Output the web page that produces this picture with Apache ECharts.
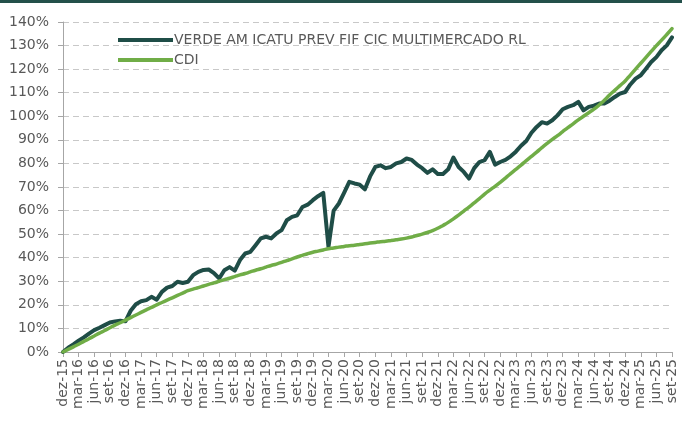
<!DOCTYPE html>
<html>
<head>
<meta charset="utf-8">
<script src="https://cdn.jsdelivr.net/npm/echarts@6/dist/echarts.min.js"></script>
<style>
  html, body { margin: 0; padding: 0; background: #fff; }
  #chart { width: 682px; height: 431px; }
</style>
</head>
<body>
<div id="chart"></div>
<script>
// month labels, dez-15 .. set-25
const monthNames = ['jan', 'fev', 'mar', 'abr', 'mai', 'jun', 'jul', 'ago', 'set', 'out', 'nov', 'dez'];
const firstYear = 2015, firstMonth = 11, lastYear = 2025, lastMonth = 8;

const fundName = 'VERDE AM ICATU PREV FIF CIC MULTIMERCADO RL';
const cdiName = 'CDI';

// accumulated return, % (monthly readings)
const fundValues = [
  0, 1.8, 3.2, 4.8, 6.2, 7.8, 9.3, 10.3, 11.4, 12.5, 13.0, 13.3,
  13.0, 17.5, 20.3, 21.5, 22.0, 23.4, 22.2, 25.5, 27.3, 28.0, 29.8, 29.3,
  29.8, 32.6, 34.0, 34.8, 35.0, 33.5, 31.2, 34.7, 36.0, 34.5, 39.0, 41.8,
  42.5, 45.3, 48.2, 48.9, 48.2, 50.3, 51.7, 55.9, 57.3, 58.0, 61.5, 62.5,
  64.4, 66.1, 67.5, 44.6, 60.0, 63.0, 67.5, 72.2, 71.5, 71.0, 69.0, 74.5,
  78.5, 79.2, 78.0, 78.5, 80.0, 80.6, 82.1, 81.5, 79.5, 78.0, 76.0, 77.5,
  75.5, 75.5, 77.5, 82.5, 78.5, 76.4, 73.6, 78.0, 80.6, 81.4, 84.9, 79.5,
  80.6, 81.5, 83.0, 85.0, 87.5, 89.5, 93.0, 95.5, 97.5, 96.9, 98.3, 100.4,
  103.0, 104.0, 104.7, 106.1, 102.5, 104.0, 104.5, 105.4, 105.4, 106.6, 108.2, 109.6,
  110.3, 113.5, 116.0, 117.4, 120.2, 123.0, 125.1, 128.0, 130.1, 133.5
];

const cdiValues = [
  0, 1.1, 2.2, 3.3, 4.5, 5.6, 6.8, 8.0, 9.1, 10.3, 11.4, 12.4,
  13.5, 14.6, 15.7, 16.8, 17.9, 18.9, 20.0, 21.0, 22.0, 23.0, 24.0, 25.0,
  26.0, 26.7, 27.3, 28.0, 28.7, 29.3, 30.0, 30.7, 31.3, 32.0, 32.7, 33.3,
  34.0, 34.7, 35.3, 36.0, 36.7, 37.3, 38.0, 38.8, 39.5, 40.3, 41.0, 41.7,
  42.3, 42.8, 43.3, 43.8, 44.1, 44.5, 44.8, 45.1, 45.3, 45.6, 45.9, 46.2,
  46.5, 46.8, 47.0, 47.3, 47.6, 47.9, 48.3, 48.8, 49.4, 50.0, 50.7, 51.5,
  52.5, 53.7, 55.0, 56.5, 58.1, 59.8, 61.5, 63.3, 65.1, 67.0, 68.7, 70.3,
  72.0, 73.8, 75.7, 77.5, 79.3, 81.2, 83.0, 84.8, 86.7, 88.5, 90.2, 91.8,
  93.5, 95.2, 96.8, 98.5, 100.0, 101.5, 103.0, 104.8, 106.8, 109.0, 111.0, 113.0,
  115.0, 117.5, 120.0, 122.5, 125.0, 127.5, 130.0, 132.3, 134.7, 137.2
];

const categories = [];
for (let y = firstYear, m = firstMonth; y < lastYear || (y === lastYear && m <= lastMonth); ) {
  categories.push(monthNames[m] + '-' + String(y).slice(2));
  m++;
  if (m > 11) { m = 0; y++; }
}

const textColor = '#595959';
const axisColor = '#a6a6a6';
const fontFamily = '"DejaVu Sans", "Noto Sans", sans-serif';

const chart = echarts.init(document.getElementById('chart'));

chart.setOption({
  animation: false,
  textStyle: { fontFamily: fontFamily },
  graphic: [
    { type: 'rect', left: 0, top: 0, shape: { width: 682, height: 3 }, style: { fill: '#23504a' } }
  ],
  legend: {
    data: [fundName, cdiName],
    orient: 'vertical',
    left: 113,
    top: 28,
    itemWidth: 55,
    itemHeight: 4,
    itemGap: 6,
    icon: 'rect',
    textStyle: { color: textColor, fontSize: 14, fontFamily: fontFamily, padding: [0, 0, 0, -4] }
  },
  grid: {
    left: 63,
    right: 10,
    top: 22,
    bottom: 79
  },
  xAxis: {
    type: 'category',
    data: categories,
    boundaryGap: false,
    axisLine: { lineStyle: { color: axisColor, width: 1 } },
    axisTick: { interval: 2, length: 5, lineStyle: { color: axisColor } },
    axisLabel: {
      interval: 2,
      rotate: 90,
      color: textColor,
      fontSize: 14,
      margin: 7,
      fontFamily: fontFamily
    },
    splitLine: { show: false }
  },
  yAxis: {
    type: 'value',
    min: 0,
    max: 140,
    interval: 10,
    axisLine: { show: true, lineStyle: { color: axisColor, width: 1 } },
    axisTick: { show: true, length: 5, lineStyle: { color: axisColor } },
    axisLabel: {
      formatter: '{value}%',
      color: textColor,
      fontSize: 14,
      margin: 14,
      fontFamily: fontFamily
    },
    splitLine: {
      lineStyle: { color: '#c8c8c8', type: [6, 4], width: 1 }
    }
  },
  series: [
    {
      name: fundName,
      type: 'line',
      data: fundValues,
      symbol: 'none',
      smooth: false,
      lineStyle: { color: '#1f4d47', width: 4, join: 'round', cap: 'round' },
      itemStyle: { color: '#1f4d47' }
    },
    {
      name: cdiName,
      type: 'line',
      data: cdiValues,
      symbol: 'none',
      smooth: true,
      lineStyle: { color: '#70ad47', width: 3.5, cap: 'round' },
      itemStyle: { color: '#70ad47' }
    }
  ]
});
</script>
</body>
</html>
